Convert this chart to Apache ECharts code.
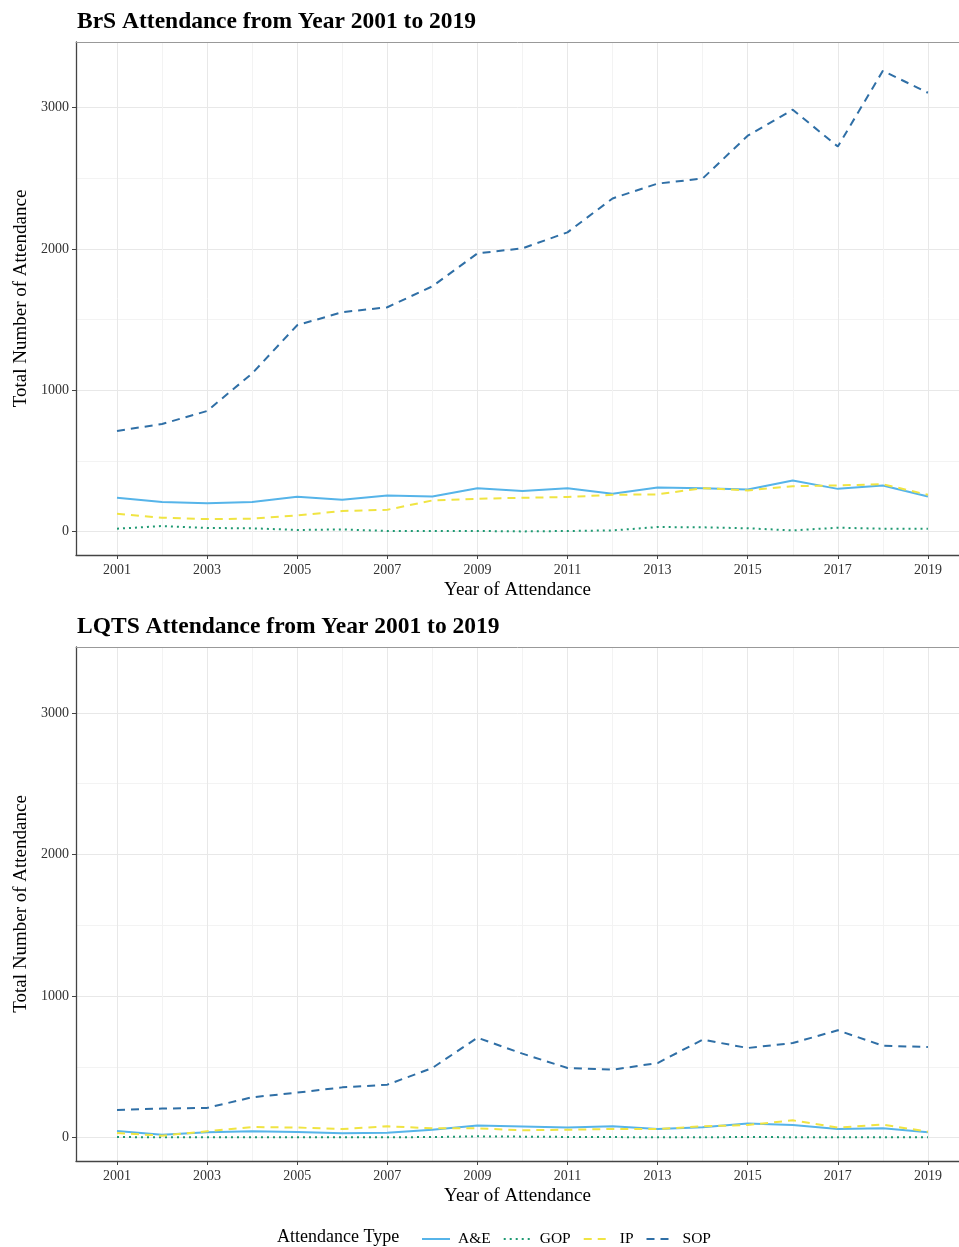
<!DOCTYPE html>
<html>
<head>
<meta charset="utf-8">
<script src="https://cdn.jsdelivr.net/npm/echarts@6/dist/echarts.min.js"></script>
<style>
html,body{margin:0;padding:0;background:#fff;}
#chart{width:959px;height:1247px;}
</style>
</head>
<body>
<div id="chart"></div>
<script>
const years = [2001,2002,2003,2004,2005,2006,2007,2008,2009,2010,2011,2012,2013,2014,2015,2016,2017,2018,2019];
const xTickLabels = [2001,2003,2005,2007,2009,2011,2013,2015,2017,2019];
const xMinorTicks = [2002,2004,2006,2008,2010,2012,2014,2016,2018];
const yTickLabels = [0,1000,2000,3000];
const yMinorTicks = [500,1500,2500];
const seriesNames = ['A&E','GOP','IP','SOP'];

// BrS panel
const brsAE  = [240,210,202,210,247,226,256,249,308,287,308,268,313,308,299,362,303,327,249];
const brsGOP = [21,40,26,24,12,16,5,5,5,2,5,9,33,31,24,9,28,21,21];
const brsIP  = [127,99,89,92,115,146,155,221,233,240,245,261,264,308,292,322,327,336,261];
const brsSOP = [713,762,854,1120,1461,1553,1588,1736,1969,2005,2118,2358,2463,2499,2802,2986,2725,3261,3106];

// LQTS panel
const lqtsAE  = [47,21,38,45,40,31,35,56,85,78,71,80,61,73,99,89,61,66,38];
const lqtsGOP = [4,3,3,2,2,2,3,4,9,7,5,4,2,2,5,3,2,2,2];
const lqtsIP  = [33,14,45,75,71,61,80,66,66,52,56,61,61,80,89,122,71,92,42];
const lqtsSOP = [196,205,210,285,318,355,374,492,706,593,492,480,527,692,633,668,758,649,640];

const colors = {'A&E':'#56B4E9','GOP':'#1f9a73','IP':'#F0E442','SOP':'#2f6fa6'};
const lineTypes = {'A&E':'solid','GOP':[2,4],'IP':[8,6],'SOP':[8,6]};

const FONT = '"Liberation Serif", "DejaVu Serif", serif';
const chart = echarts.init(document.getElementById('chart'));

const X_MIN = 2000.09, X_MAX = 2019.69;
const Y_MIN = -165, Y_MAX = 3465;

const grids = [
  {left:76, top:42, width:883, height:513},
  {left:76, top:647, width:883, height:514}
];

function xAxisPair(gi){
  return [
    {type:'value', gridIndex:gi, min:X_MIN, max:X_MAX,
      name:'Year of Attendance', nameLocation:'middle', nameGap:26,
      nameTextStyle:{fontFamily:FONT,fontSize:19,color:'#000'},
      axisLine:{show:true,onZero:false,lineStyle:{color:'#444',width:1.3}},
      axisTick:{show:true,length:4,customValues:xTickLabels,lineStyle:{color:'#444'}},
      axisLabel:{customValues:xTickLabels,fontFamily:FONT,fontSize:14,color:'#333',margin:8,formatter:v=>String(v)},
      splitLine:{show:true,lineStyle:{color:'#e8e8e8',width:1}}
    },
    {type:'value', gridIndex:gi, min:X_MIN, max:X_MAX, position:'top',
      axisLine:{show:true,onZero:false,lineStyle:{color:'#999',width:1}},
      axisTick:{show:false,customValues:xMinorTicks},
      axisLabel:{show:false},
      splitLine:{show:true,lineStyle:{color:'#f3f3f3',width:1}}
    }
  ];
}
function yAxisPair(gi){
  return [
    {type:'value', gridIndex:gi, min:Y_MIN, max:Y_MAX,
      name:'Total Number of Attendance', nameLocation:'middle', nameGap:42,
      nameTextStyle:{fontFamily:FONT,fontSize:19,color:'#000'},
      axisLine:{show:true,lineStyle:{color:'#444',width:1.3}},
      axisTick:{show:true,length:4,customValues:yTickLabels,lineStyle:{color:'#444'}},
      axisLabel:{customValues:yTickLabels,fontFamily:FONT,fontSize:14,color:'#333',margin:7,formatter:v=>String(v)},
      splitLine:{show:true,lineStyle:{color:'#e8e8e8',width:1}}
    },
    {type:'value', gridIndex:gi, min:Y_MIN, max:Y_MAX, position:'right',
      axisLine:{show:false},
      axisTick:{show:false,customValues:yMinorTicks},
      axisLabel:{show:false},
      splitLine:{show:true,lineStyle:{color:'#f3f3f3',width:1}}
    }
  ];
}

function mkSeries(name, vals, gi){
  return {
    name:name, type:'line', xAxisIndex:gi*2, yAxisIndex:gi*2,
    data: years.map((y,i)=>[y, vals[i]]),
    showSymbol:false, symbol:'none', smooth:false,
    lineStyle:{color:colors[name], width:2, type:lineTypes[name]},
    itemStyle:{color:colors[name]},
    z: name==='SOP'?5:(name==='IP'?4:(name==='GOP'?3:2)),
    animation:false
  };
}

const series = [
  mkSeries('A&E',brsAE,0), mkSeries('GOP',brsGOP,0), mkSeries('IP',brsIP,0), mkSeries('SOP',brsSOP,0),
  mkSeries('A&E',lqtsAE,1), mkSeries('GOP',lqtsGOP,1), mkSeries('IP',lqtsIP,1), mkSeries('SOP',lqtsSOP,1)
];

chart.setOption({
  backgroundColor:'#fff',
  animation:false,
  grid: grids,
  xAxis: [].concat(xAxisPair(0), xAxisPair(1)),
  yAxis: [].concat(yAxisPair(0), yAxisPair(1)),
  title: [
    {text:'BrS Attendance from Year 2001 to 2019', left:72, top:5, textStyle:{fontFamily:FONT,fontSize:23.5,fontWeight:'bold',color:'#000'}},
    {text:'LQTS Attendance from Year 2001 to 2019', left:72, top:610, textStyle:{fontFamily:FONT,fontSize:23.5,fontWeight:'bold',color:'#000'}}
  ],
  legend: {
    data: seriesNames, left:416, top:1226, itemWidth:28, itemHeight:10, itemGap:12,
    itemStyle:{opacity:0, borderWidth:0},
    textStyle:{fontFamily:FONT,fontSize:15.5,color:'#000',padding:[0,0,0,3]}
  },
  graphic: [
    {type:'text', left:277, top:1228, style:{text:'Attendance Type', font:'18px "Liberation Serif", serif', fill:'#000'}}
  ],
  series: series
});
</script>
</body>
</html>
